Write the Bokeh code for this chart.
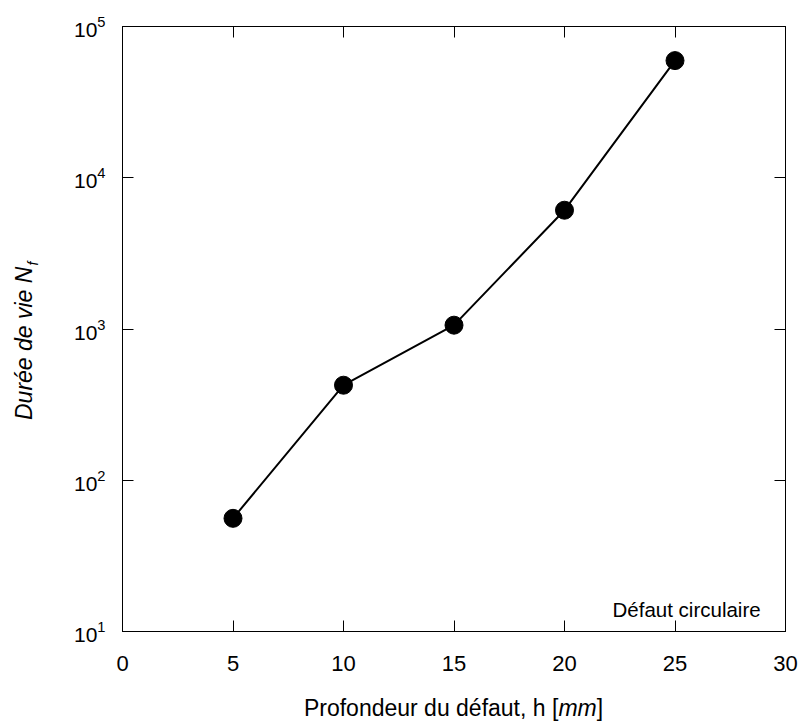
from bokeh.plotting import figure
from bokeh.models import (LinearAxis, LogAxis, FixedTicker, Label, CustomJSTickFormatter,
                          Range1d, ColumnDataSource, Div)
from bokeh.layouts import row, column
from bokeh.embed import file_html
from bokeh.resources import INLINE

# ---- data ----
depth = [5, 10, 15, 20, 25]
life = [56, 425, 1060, 6100, 59500]
x_ticks = [0, 5, 10, 15, 20, 25, 30]
y_ticks = [10, 100, 1000, 10000, 100000]
x_label_main = "Profondeur du défaut, h ["
x_label_unit = "mm"
x_label_end = "]"
y_label_main = "Durée de vie N"
y_label_sub = "f"
note = "Défaut circulaire"

FONT = "Liberation Sans"

p = figure(width=750, height=690, output_backend="svg", toolbar_location=None,
           y_axis_type="log", x_range=Range1d(0, 30), y_range=Range1d(10, 1e5),
           min_border_left=72, min_border_right=15, min_border_top=26, min_border_bottom=59)
p.grid.visible = False
p.outline_line_color = "black"
p.outline_line_width = 1
p.background_fill_color = "white"
p.border_fill_color = "white"

src = ColumnDataSource(dict(x=depth, y=life))
p.line("x", "y", source=src, line_color="black", line_width=2)
p.scatter("x", "y", source=src, marker="circle", size=18, fill_color="black", line_color="black")

def style(ax, fs="22px"):
    ax.axis_line_color = "black"
    ax.major_tick_in = 11
    ax.major_tick_out = 0
    ax.minor_tick_line_color = None
    ax.major_tick_line_color = "black"
    ax.major_label_text_font = FONT
    ax.major_label_text_font_size = fs
    ax.major_label_text_color = "black"

xa = p.xaxis[0]
xa.ticker = FixedTicker(ticks=x_ticks)
style(xa)
xa.major_label_standoff = 24

ya = p.yaxis[0]
ya.ticker = FixedTicker(ticks=y_ticks)
style(ya, fs="21px")
ya.major_label_standoff = 17

empty = CustomJSTickFormatter(code="return ''")
top = LinearAxis(ticker=FixedTicker(ticks=x_ticks), formatter=empty)
style(top)
top.major_label_standoff = 0
p.add_layout(top, "above")
right = LogAxis(ticker=FixedTicker(ticks=y_ticks), formatter=empty)
style(right)
right.major_label_standoff = 0
p.add_layout(right, "right")

p.add_layout(Label(x=490, y=21.7, x_units="screen", y_units="screen", text=note,
                   text_font=FONT, text_font_size="20.5px", text_color="black",
                   text_align="left", text_baseline="alphabetic"))

xdiv = Div(width=750, height=34, margin=(0, 0, 0, 0),
           text=(f'<div style="margin:0; padding-top:7px; margin-left:72px; width:663px; '
                 f'text-align:center; white-space:nowrap; font-family:\'{FONT}\'; font-size:23px; '
                 f'line-height:23px; color:black">{x_label_main}<i>{x_label_unit}</i>{x_label_end}</div>'))

ydiv = Div(width=50, height=724, margin=(0, 0, 0, 0),
           text=(f'<div style="position:absolute; left:12.5px; top:420px; transform:rotate(-90deg); '
                 f'transform-origin:left top; white-space:nowrap; font-family:\'{FONT}\'; '
                 f'font-style:italic; font-size:23px; line-height:23px; color:black">'
                 f'{y_label_main}<span style="font-size:14px; line-height:14px; position:relative; '
                 f'top:6px; left:1px">{y_label_sub}</span></div>'))

layout = row(ydiv, column(p, xdiv, spacing=0), spacing=0)

open("out.html", "w").write(file_html(layout, INLINE))
